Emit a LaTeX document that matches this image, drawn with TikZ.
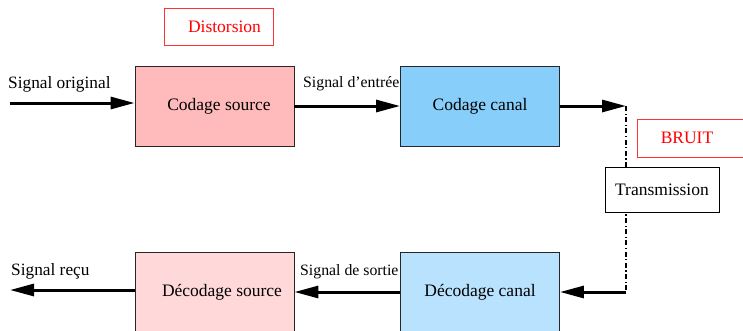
\documentclass[tikz,border=0pt]{standalone}
\usepackage{fontspec}
\setmainfont{Liberation Serif}
\usetikzlibrary{arrows.meta}
\definecolor{csrc}{HTML}{FFBBBB}
\definecolor{dsrc}{HTML}{FFD8D9}
\definecolor{ccan}{HTML}{87CEFA}
\definecolor{dcan}{HTML}{B9E2FF}
\begin{document}
\begin{tikzpicture}[x=1pt,y=-1pt,
  blockbox/.style={draw=black!85, line width=0.9pt, minimum width=159pt, minimum height=80pt, inner sep=0pt, font=\fontsize{17.5}{20}\selectfont},
  redbox/.style={draw=red!80, line width=0.9pt, text=red, inner sep=0pt, font=\fontsize{17.5}{20}\selectfont},
  sig/.style={inner sep=0pt, anchor=base west, font=\fontsize{17.3}{20}\selectfont},
  sigsmall/.style={inner sep=0pt, anchor=base west, font=\fontsize{15.8}{18}\selectfont},
  arr/.style={line width=3pt, -{Triangle[length=24pt,width=12pt]}},
  dashdot/.style={line width=1.2pt, dash pattern=on 5pt off 2.5pt on 1.2pt off 2.5pt}
]
\useasboundingbox (0,0) rectangle (743,330);
\node[redbox, minimum width=109pt, minimum height=37pt] (dist) at (218.5,26.5) {\hspace*{12pt}Distorsion};
\node[blockbox, fill=csrc] (codsrc) at (214.5,106) {\hspace*{9pt}Codage source};
\node[blockbox, fill=ccan] (codcan) at (480,106) {Codage canal};
\node[blockbox, fill=dsrc] (decsrc) at (214.5,292) {\hspace*{15pt}Décodage source};
\node[blockbox, fill=dcan] (deccan) at (480,292) {Décodage canal};
\coordinate (sin) at (10,103);
\coordinate (sout) at (10,290);
\coordinate (c1) at (626,106);
\coordinate (c2) at (626,292);
\node[sig] (lorig) at (8,88) {Signal original};
\node[sigsmall] (lentree) at (303,87) {Signal d’entrée};
\node[sig] (lrecu) at (11,275) {Signal reçu};
\node[sigsmall] (lsortie) at (300,275) {Signal de sortie};
\draw[arr] (sin) -- (codsrc.west |- sin);
\draw[arr] (codsrc.east) -- (codcan.west);
\draw[arr] (codcan.east) -- (c1);
\draw[dashdot] (c1) -- (c2);
\draw[arr] (c2) -- (deccan.east);
\draw[arr] (deccan.west) -- (decsrc.east);
\draw[arr] (decsrc.west |- sout) -- (sout);
\node[draw=black, line width=0.9pt, fill=white, minimum width=114pt, minimum height=45pt, inner sep=0pt, font=\fontsize{17.5}{20}\selectfont] (trans) at (662,189.5) {Transmission};
\node[redbox, minimum width=120pt, minimum height=38pt] (bruit) at (697,138) {\hspace*{-20pt}BRUIT};
\end{tikzpicture}
\end{document}
